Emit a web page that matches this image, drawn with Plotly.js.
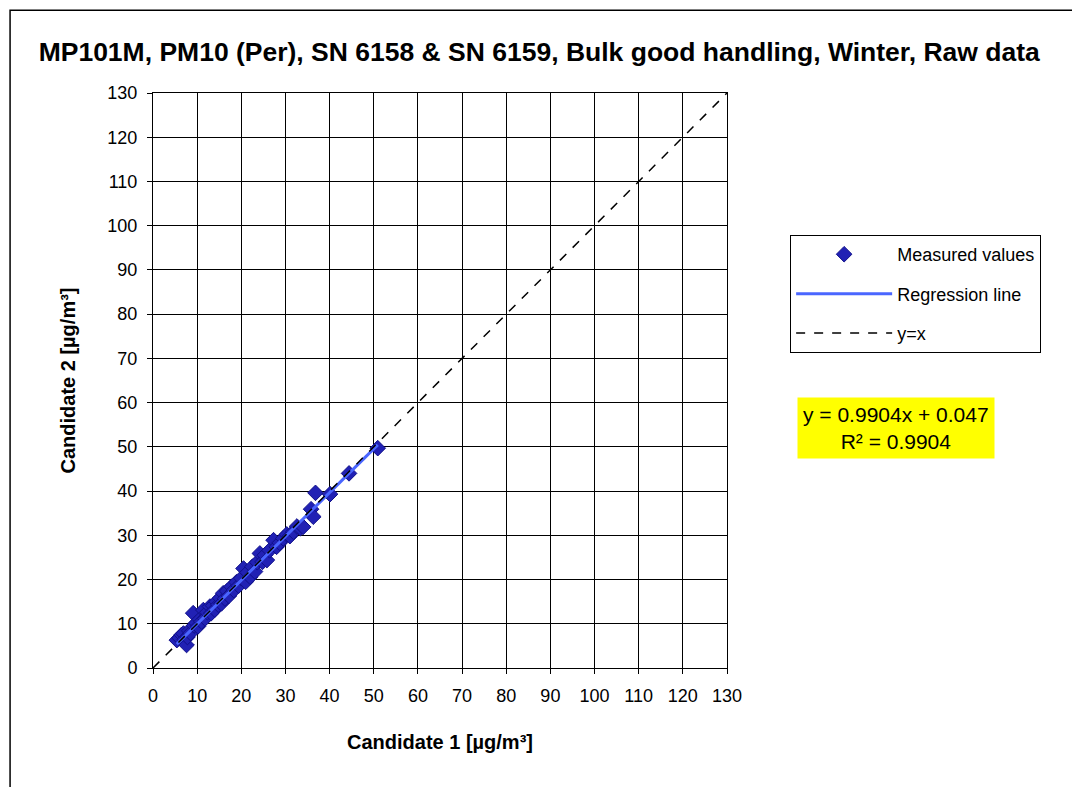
<!DOCTYPE html>
<html>
<head>
<meta charset="utf-8">
<script src="https://cdn.plot.ly/plotly-3.0.1.min.js"></script>
<style>html,body{margin:0;padding:0;background:#fff;}#chart{width:1072px;height:787px;}</style>
</head>
<body>
<div id="chart"></div>
<script>
const candidate1 = [5.4,6.0,6.5,6.9,7.2,7.6,7.8,8.2,8.5,9.1,9.3,9.8,10.2,10.6,11.0,11.4,11.8,12.3,12.9,13.2,13.6,14.0,14.4,14.8,15.2,15.5,15.9,16.3,16.8,17.2,17.8,18.3,18.9,19.4,20.0,20.5,21.0,21.4,22.0,22.5,23.1,23.6,24.2,24.8,25.3,25.8,26.4,27.3,28.0,28.7,29.5,30.3,31.0,31.8,32.6,33.4,34.0,35.8,36.3,36.8,40.1,44.4,50.9];
const candidate2 = [6.3,6.8,7.5,7.8,6.5,5.2,7.0,8.4,7.9,12.4,9.6,10.2,9.4,11.0,10.5,13.1,11.2,12.6,13.9,12.4,14.1,13.2,15.0,14.3,15.8,14.6,16.9,15.7,17.4,16.3,18.4,17.6,19.4,18.6,20.3,22.5,19.5,21.6,20.6,22.9,21.8,23.9,25.9,24.0,25.5,24.4,26.6,28.9,27.4,28.3,29.3,30.2,29.8,30.8,32.0,31.6,31.9,35.9,34.2,39.6,39.3,44.0,49.7];
const slope = 0.9904;
const intercept = 0.047;
const rSquared = 0.9904;
const identityRange = [0, 130];
const tickValues = [0,10,20,30,40,50,60,70,80,90,100,110,120,130];

const xMin = Math.min(...candidate1), xMax = Math.max(...candidate1);
const regX = [xMin, xMax];
const regY = regX.map(v => slope * v + intercept);

const FONT = 'Liberation Sans, Arial, sans-serif';

const traces = [
  {x: candidate1, y: candidate2, mode: 'markers', type: 'scatter', name: 'Measured values',
   legendgroup: 'a',
   marker: {symbol: 'diamond', size: 12, color: '#2121b4', line: {color: '#10108a', width: 1}}},
  {x: regX, y: regY, mode: 'lines', type: 'scatter', name: 'Regression line', legendgroup: 'b',
   line: {color: '#4a66ff', width: 3}},
  {x: identityRange, y: identityRange, mode: 'lines', type: 'scatter', name: 'y=x', legendgroup: 'c',
   line: {color: '#000000', width: 1.5, dash: 'dash'}}
];

const axisCommon = {
  range: [0, 130], tickvals: tickValues, showgrid: true, gridcolor: '#000000', gridwidth: 1,
  showline: true, linecolor: '#000000', linewidth: 1, mirror: true, zeroline: false,
  ticks: 'outside', ticklen: 5, tickcolor: '#000000', ticklabelstandoff: 6,
  tickfont: {family: FONT, size: 18, color: '#000'}
};

const layout = {
  width: 1072, height: 787,
  margin: {l: 153, r: 345, t: 93, b: 119},
  paper_bgcolor: '#ffffff', plot_bgcolor: '#ffffff',
  showlegend: true,
  title: {text: '<b>MP101M, PM10 (Per), SN 6158 &amp; SN 6159, Bulk good handling, Winter, Raw data</b>',
          font: {family: FONT, size: 26.5, color: '#000'}, x: 0.503, xanchor: 'center', y: 0.934, yanchor: 'middle'},
  xaxis: Object.assign({}, axisCommon, {
    title: {text: '<b>Candidate 1 [µg/m³]</b>', font: {family: FONT, size: 20, color: '#000'}, standoff: 30}
  }),
  yaxis: Object.assign({}, axisCommon, {
    title: {text: '<b>Candidate 2 [µg/m³]</b>', font: {family: FONT, size: 20, color: '#000'}, standoff: 26}
  }),
  legend: {
    x: 1.11, y: 0.753, xanchor: 'left', yanchor: 'top',
    bgcolor: '#ffffff', bordercolor: '#000000', borderwidth: 1,
    font: {family: FONT, size: 18, color: '#000'},
    itemwidth: 96, traceorder: 'grouped', tracegroupgap: 13
  },
  annotations: [{
    xref: 'paper', yref: 'paper', x: 1.294, y: 0.417, xanchor: 'center', yanchor: 'middle',
    text: 'y = 0.9904x + 0.047<br>R² = ' + rSquared.toFixed(4), showarrow: false,
    bgcolor: '#ffff00', borderpad: 5,
    font: {family: FONT, size: 21, color: '#000'}, align: 'center'
  }],
  shapes: [{
    type: 'rect', xref: 'paper', yref: 'paper', x0: -0.249, x1: 1.62, y0: -0.23, y1: 1.144,
    line: {color: '#000000', width: 1.5}, fillcolor: 'rgba(0,0,0,0)', layer: 'below'
  }]
};

Plotly.newPlot('chart', traces, layout, {displayModeBar: false, staticPlot: true});
</script>
</body>
</html>
